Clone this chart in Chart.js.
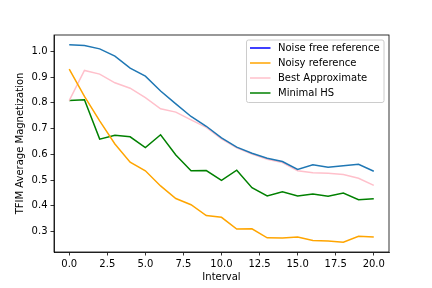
<!DOCTYPE html>
<html>
<head>
<meta charset="utf-8">
<script src="https://cdn.jsdelivr.net/npm/chart.js@4"></script>
<style>
html,body{margin:0;padding:0;background:#fff;}
#wrap{width:432px;height:288px;}
</style>
</head>
<body>
<div id="wrap"><canvas id="c" width="432" height="288"></canvas></div>
<script>
const intervals = [0,1,2,3,4,5,6,7,8,9,10,11,12,13,14,15,16,17,18,19,20];
const seriesNames = ["Noise free reference","Noisy reference","Best Approximate","Minimal HS"];
const noiseFree = [1.026,1.023,1.010,0.982,0.935,0.904,0.846,0.796,0.747,0.709,0.664,0.628,0.604,0.585,0.572,0.541,0.559,0.550,0.555,0.561,0.534];
const noisy = [0.931,0.825,0.730,0.640,0.569,0.536,0.477,0.428,0.404,0.362,0.355,0.309,0.310,0.275,0.274,0.278,0.265,0.263,0.258,0.281,0.278];
const bestApprox = [0.809,0.926,0.912,0.878,0.857,0.820,0.777,0.764,0.734,0.705,0.660,0.625,0.601,0.581,0.568,0.536,0.528,0.526,0.521,0.507,0.479];
const minimalHS = [0.809,0.812,0.659,0.674,0.668,0.626,0.676,0.597,0.536,0.537,0.499,0.538,0.470,0.438,0.454,0.438,0.446,0.437,0.449,0.423,0.427];
const xTicks = [0,2.5,5,7.5,10,12.5,15,17.5,20];
const yTicks = [0.3,0.4,0.5,0.6,0.7,0.8,0.9,1.0];

const lineColors = ["#1f77b4","orange","pink","green"];
const legendColors = ["blue","orange","pink","green"];
const allSeries = [noiseFree, noisy, bestApprox, minimalHS];
const FONT = "DejaVu Sans";

const framePlugin = {
  id: 'frame',
  afterDatasetsDraw(chart) {
    const {ctx, chartArea: a} = chart;
    ctx.save();
    ctx.strokeStyle = '#000';
    ctx.lineWidth = 0.8;
    ctx.strokeRect(a.left, a.top, a.right - a.left, a.bottom - a.top);
    ctx.restore();
  }
};

const legendPlugin = {
  id: 'boxLegend',
  afterDraw(chart) {
    const ctx = chart.ctx;
    const a = chart.chartArea;
    ctx.save();
    const w = 137.5, h = 62.5;
    const x0 = a.right - 5 - w, y0 = a.top + 5;
    const r = 2;
    ctx.beginPath();
    ctx.moveTo(x0 + r, y0);
    ctx.lineTo(x0 + w - r, y0);
    ctx.quadraticCurveTo(x0 + w, y0, x0 + w, y0 + r);
    ctx.lineTo(x0 + w, y0 + h - r);
    ctx.quadraticCurveTo(x0 + w, y0 + h, x0 + w - r, y0 + h);
    ctx.lineTo(x0 + r, y0 + h);
    ctx.quadraticCurveTo(x0, y0 + h, x0, y0 + h - r);
    ctx.lineTo(x0, y0 + r);
    ctx.quadraticCurveTo(x0, y0, x0 + r, y0);
    ctx.closePath();
    ctx.fillStyle = 'rgba(255,255,255,0.8)';
    ctx.fill();
    ctx.strokeStyle = '#cccccc';
    ctx.lineWidth = 1;
    ctx.stroke();
    ctx.font = '10px "' + FONT + '"';
    ctx.textBaseline = 'middle';
    ctx.textAlign = 'left';
    chart.data.datasets.forEach((ds, i) => {
      const yy = y0 + 8 + i * 15;
      ctx.beginPath();
      ctx.moveTo(x0 + 3.5, yy);
      ctx.lineTo(x0 + 24, yy);
      ctx.strokeStyle = legendColors[i];
      ctx.lineWidth = 1.5;
      ctx.stroke();
      ctx.fillStyle = '#000';
      ctx.fillText(ds.label, x0 + 31.5, yy);
    });
    ctx.restore();
  }
};

new Chart(document.getElementById('c'), {
  type: 'line',
  data: {
    datasets: allSeries.map((s, i) => ({
      label: seriesNames[i],
      data: intervals.map((x, j) => ({x: x, y: s[j]})),
      borderColor: lineColors[i],
      backgroundColor: lineColors[i],
      borderWidth: 1.5,
      pointRadius: 0,
      tension: 0,
      fill: false
    }))
  },
  options: {
    responsive: false,
    animation: false,
    devicePixelRatio: 1,
    layout: {padding: {top: 35, right: 43, left: 0, bottom: 0}},
    plugins: {legend: {display: false}, tooltip: {enabled: false}},
    scales: {
      x: {
        type: 'linear',
        min: -1,
        max: 21,
        afterBuildTicks(scale) { scale.ticks = xTicks.map(v => ({value: v})); },
        afterFit(scale) { scale.height = 36; },
        grid: {drawOnChartArea: false, drawTicks: true, tickLength: 3.5, color: '#000', lineWidth: 0.8},
        border: {display: true, color: '#000', width: 0.8},
        ticks: {
          color: '#000', padding: 3, maxRotation: 0, autoSkip: false,
          font: {family: FONT, size: 10},
          callback: v => Number(v).toFixed(1)
        },
        title: {display: true, text: 'Interval', color: '#000', font: {family: FONT, size: 10}, padding: {top: 0, bottom: 5}}
      },
      y: {
        type: 'linear',
        min: 0.22,
        max: 1.064,
        afterBuildTicks(scale) { scale.ticks = yTicks.map(v => ({value: v})); },
        afterFit(scale) { scale.width = 54; },
        grid: {drawOnChartArea: false, drawTicks: true, tickLength: 3.5, color: '#000', lineWidth: 0.8},
        border: {display: true, color: '#000', width: 0.8},
        ticks: {
          color: '#000', padding: 3, autoSkip: false,
          font: {family: FONT, size: 10},
          callback: v => Number(v).toFixed(1)
        },
        title: {display: true, text: 'TFIM Average Magnetization', color: '#000', font: {family: FONT, size: 10}, padding: {top: 14, bottom: 0}}
      }
    }
  },
  plugins: [framePlugin, legendPlugin]
});
</script>
</body>
</html>
